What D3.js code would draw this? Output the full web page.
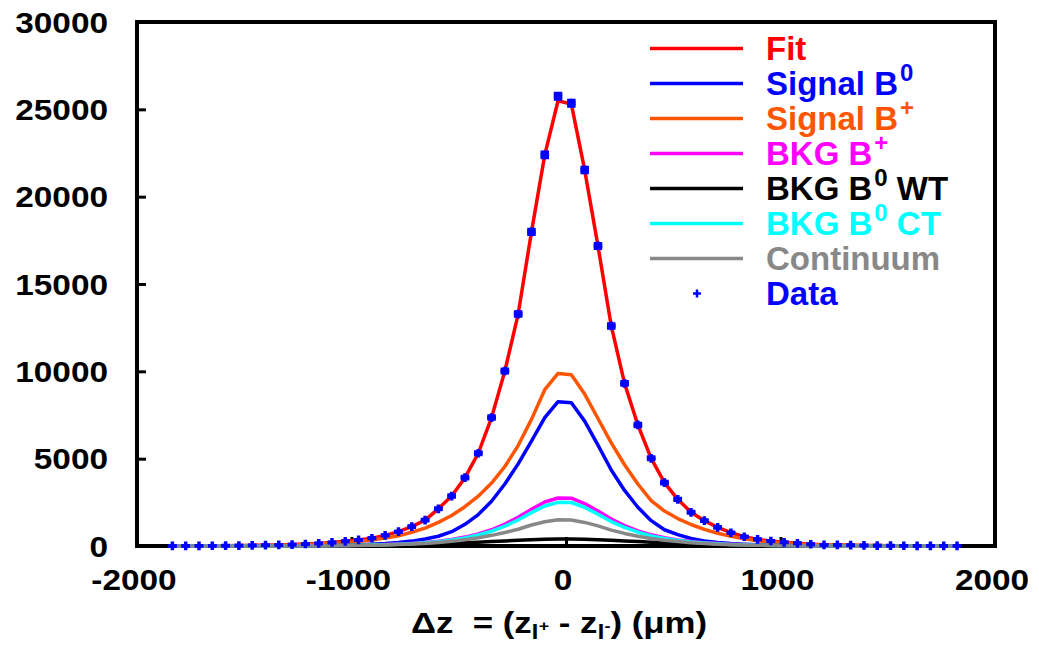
<!DOCTYPE html>
<html><head><meta charset="utf-8">
<script src="https://cdn.jsdelivr.net/npm/d3@7"></script>
<style>
html,body{margin:0;padding:0;background:#fff;}
svg{display:block;font-family:"Liberation Sans",Arial,Helvetica,sans-serif;font-weight:bold;}
.pre{white-space:pre;}
</style></head>
<body>
<svg id="chart" width="1039" height="653"></svg>
<script>
// ---- data ----
const xBins = [-1835,-1773,-1711,-1649,-1587,-1525,-1463,-1401,-1339,-1277,-1215,-1153,-1091,-1029,-967,-905,-843,-781,-719,-657,-595,-533,-471,-409,-347,-285,-223,-161,-99,-37,25,87,149,211,273,335,397,459,521,583,645,707,769,831,893,955,1017,1079,1141,1203,1265,1327,1389,1451,1513,1575,1637,1699,1761,1823];
const dataCounts = [5,8,10,15,20,25,35,45,60,80,115,150,205,270,345,445,610,820,1110,1480,2130,2860,3910,5310,7350,10020,13280,17980,22390,25750,25350,21530,17180,12600,9310,6930,5020,3630,2670,1930,1450,1070,760,530,380,285,210,155,100,70,60,45,35,25,20,15,10,8,5,3];
const fitCurve = [5,8,10,15,20,25,35,45,60,80,115,150,205,270,345,445,610,820,1110,1480,2130,2860,3910,5310,7350,10020,13280,17980,22390,25490,25300,21530,17180,12600,9310,6930,5020,3630,2670,1930,1450,1070,760,530,380,285,210,155,100,70,60,45,35,25,20,15,10,8,5,3];
const signalB0 = [0,0,1,1,2,3,4,6,8,12,18,25,35,50,70,100,140,200,280,400,560,820,1240,1800,2560,3550,4700,6000,7350,8260,8200,7150,5780,4350,3180,2220,1450,930,650,430,290,200,140,100,70,50,35,25,18,12,8,6,4,3,2,1,1,1,0,0];
const signalBplus = [4,6,8,11,15,20,27,35,46,61,85,112,150,200,260,340,450,590,790,1020,1350,1750,2250,2850,3600,4550,5750,7250,8950,9880,9810,8700,7300,5900,4650,3550,2600,2000,1570,1230,950,730,550,410,300,225,165,120,85,62,48,36,27,20,15,11,8,6,4,3];
const bkgBplus = [1,1,1,2,2,3,4,5,7,10,13,18,24,32,43,58,80,108,148,200,275,375,510,690,930,1250,1640,2100,2520,2750,2740,2430,2000,1540,1170,870,640,470,345,255,188,138,100,73,53,39,29,21,15,11,8,6,4,3,2,2,1,1,1,0];
const bkgB0WT = [1,1,1,2,2,3,4,5,6,8,11,15,20,26,33,42,54,68,85,105,128,155,185,220,255,290,325,355,380,400,395,380,355,325,290,255,220,185,155,128,105,85,68,54,42,33,26,20,15,11,8,6,5,4,3,2,2,1,1,1];
const bkgB0CT = [1,1,1,2,2,3,4,5,6,9,12,16,22,29,39,53,73,98,135,182,250,340,465,630,845,1140,1490,1910,2290,2500,2490,2210,1820,1400,1065,790,580,428,314,232,171,126,91,66,48,35,26,19,14,10,7,5,4,3,2,2,1,1,1,0];
const continuum = [1,1,1,1,2,2,3,4,6,8,10,14,19,25,34,46,62,83,112,150,205,275,360,470,610,770,960,1200,1390,1500,1490,1350,1150,910,720,560,435,335,255,190,142,105,78,57,42,31,23,17,12,9,7,5,4,3,2,2,1,1,1,0];
const xTicks = [-2000,-1000,0,1000,2000];
const yTicks = [0,5000,10000,15000,20000,25000,30000];
const seriesNames = ["Fit","Signal B","Signal B","BKG B","BKG B","BKG B","Continuum","Data"];
const seriesSups  = ["","0","+","+","0","0","",""];
const seriesAfter = ["","","",""," WT"," CT","",""];
const seriesColors = ["#ff0000","#0000ff","#ff5500","#ff00ff","#000000","#00ffff","#888888","#0000ff"];

// ---- layout ----
const svg = d3.select("#chart");
const L = 137, R = 995, T = 22, B = 546;
const x = d3.scaleLinear().domain([-2000,2000]).range([L,R]);
const y = d3.scaleLinear().domain([0,30000]).range([B,T]);

const curves = [fitCurve, signalB0, signalBplus, bkgBplus, bkgB0WT, bkgB0CT, continuum];
const line = d3.line().x((d,i)=>x(xBins[i])).y(d=>y(d));

// frame
svg.append("rect").attr("x",L).attr("y",T).attr("width",R-L).attr("height",B-T)
  .attr("fill","none").attr("stroke","#000").attr("stroke-width",4);

// inward ticks
const ax = svg.append("g").attr("transform",`translate(0,${B})`)
  .call(d3.axisBottom(x).tickValues(xTicks).tickSize(-9).tickFormat(""));
const ay = svg.append("g").attr("transform",`translate(${L},0)`)
  .call(d3.axisLeft(y).tickValues(yTicks).tickSize(-9).tickFormat(""));
[ax,ay].forEach(g=>{g.select(".domain").remove();g.selectAll(".tick line").attr("stroke","#000").attr("stroke-width",3);});

// tick labels
svg.append("g").selectAll("g").data(xTicks).join("g")
  .attr("transform",d=>`translate(${x(d)-3},590) scale(1.15,1)`)
  .append("text").attr("text-anchor","middle").attr("font-size",29).text(d=>d);
svg.append("g").selectAll("g").data(yTicks).join("g")
  .attr("transform",d=>`translate(108,${y(d)+10.5}) scale(1.15,1)`)
  .append("text").attr("text-anchor","end").attr("font-size",29).text(d=>d);

// curves
svg.append("g").selectAll("path").data(curves).join("path")
  .attr("d",d=>line(d)).attr("fill","none")
  .attr("stroke",(d,i)=>seriesColors[i]).attr("stroke-width",3.5)
  .attr("stroke-linejoin","round");

// data points with error bars
const pts = svg.append("g").selectAll("g").data(dataCounts).join("g")
  .attr("transform",(d,i)=>`translate(${x(xBins[i])},${y(d)})`)
  .attr("stroke","#0000ff").attr("fill","none");
pts.append("path").attr("stroke-width",3.5).attr("stroke-linecap","butt")
  .attr("d",d=>{const s=Math.sqrt(d);const a=y(d+s)-y(d), b=y(d-s)-y(d);
    return `M-4.25,${a}H4.25M-4.25,${b}H4.25M0,${a}V${b}`;});
pts.append("path").attr("stroke-width",3.5).attr("stroke-linecap","square")
  .attr("d","M-2.6,0H2.6M0,-2.6V2.6");

// legend
const rows = svg.append("g").selectAll("g").data(seriesNames).join("g")
  .attr("transform",(d,i)=>`translate(0,${48.5+35*i})`);
rows.each(function(d,i){
  const g = d3.select(this);
  if (i < 7) {
    g.append("line").attr("x1",650).attr("x2",743).attr("y1",0).attr("y2",0)
      .attr("stroke",seriesColors[i]).attr("stroke-width",3.5);
  } else {
    g.append("path").attr("d","M693,0H701M697,-4V4").attr("stroke",seriesColors[i]).attr("stroke-width",2.5);
  }
  const t = g.append("text").attr("class","pre").attr("x",766).attr("y",11.5).attr("font-size",33).attr("fill",seriesColors[i]);
  t.append("tspan").text(d);
  if (seriesSups[i]) {
    t.append("tspan").attr("font-size",24).attr("dy",-14).attr("dx",2).text(seriesSups[i]);
    if (seriesAfter[i]) t.append("tspan").attr("dy",14).text(seriesAfter[i]);
  }
});

// x axis title
const tg = svg.append("g").attr("transform","translate(559,633) scale(1.2,1)");
const tt = tg.append("text").attr("class","pre").attr("x",0).attr("y",0).attr("text-anchor","middle").attr("font-size",29);
tt.append("tspan").text("\u0394z  = (z");
tt.append("tspan").attr("font-size",21).attr("dy",6).text("l");
tt.append("tspan").attr("font-size",15).attr("dy",-8).text("+");
tt.append("tspan").attr("dy",2).text(" - z");
tt.append("tspan").attr("font-size",21).attr("dy",6).text("l");
tt.append("tspan").attr("font-size",15).attr("dy",-8).text("-");
tt.append("tspan").attr("dy",2).text(") (\u03bcm)");
</script>
</body></html>
